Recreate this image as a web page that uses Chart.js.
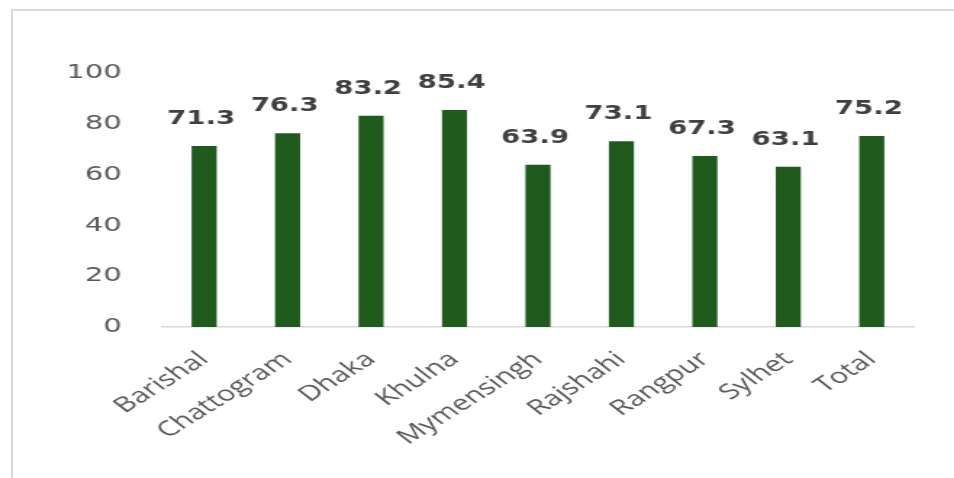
<!DOCTYPE html>
<html>
<head>
<meta charset="utf-8">
<script src="https://cdn.jsdelivr.net/npm/chart.js@4/dist/chart.umd.min.js"></script>
<style>
  html, body { margin: 0; padding: 0; background: #ffffff; overflow: hidden; }
  #frame {
    position: absolute; left: 11px; top: 9px; width: 960px; height: 480px;
    border-top: 2px solid #dadada; border-left: 2px solid #dadada;
  }
  /* the chart is laid out narrow and widened horizontally */
  #wrap {
    position: absolute; left: 0; top: 0; width: 658px; height: 478px;
    transform: scaleX(1.45); transform-origin: 0 0;
  }
</style>
</head>
<body>
<div id="frame"></div>
<div id="wrap"><canvas id="c" width="658" height="478"></canvas></div>
<script>
const divisions = ['Barishal', 'Chattogram', 'Dhaka', 'Khulna', 'Mymensingh', 'Rajshahi', 'Rangpur', 'Sylhet', 'Total'];
const rates = [71.3, 76.3, 83.2, 85.4, 63.9, 73.1, 67.3, 63.1, 75.2];
const yTicks = [0, 20, 40, 60, 80, 100];

const barColor = '#1f5b1d';

// value labels above each bar
const valueLabels = {
  id: 'valueLabels',
  afterDatasetsDraw(chart) {
    const ctx = chart.ctx;
    const meta = chart.getDatasetMeta(0);
    ctx.save();
    ctx.font = 'bold 19px "DejaVu Sans"';
    ctx.fillStyle = '#404040';
    ctx.textAlign = 'center';
    ctx.textBaseline = 'alphabetic';
    meta.data.forEach((bar, i) => {
      ctx.fillText(rates[i].toFixed(1), bar.x - 2, bar.y - 22);
    });
    ctx.restore();
  }
};

new Chart(document.getElementById('c'), {
  type: 'bar',
  data: {
    labels: divisions,
    datasets: [{
      data: rates,
      backgroundColor: barColor,
      borderWidth: 0,
      barPercentage: 0.3,
      categoryPercentage: 1.0
    }]
  },
  options: {
    responsive: false,
    animation: false,
    layout: { padding: { left: 0, right: 28, top: 73, bottom: 0 } },
    plugins: {
      legend: { display: false },
      tooltip: { enabled: false }
    },
    scales: {
      x: {
        grid: { display: true, drawOnChartArea: false, drawTicks: false },
        border: { display: true, color: '#d9d9d9', width: 1.5 },
        ticks: {
          minRotation: 42,
          maxRotation: 42,
          padding: 20,
          color: '#595959',
          font: { family: '"Open Sans"', size: 21 }
        },
        afterFit(scale) { scale.height = 151; }
      },
      y: {
        min: 0,
        max: 100,
        grid: { display: false },
        border: { display: false },
        afterBuildTicks(scale) { scale.ticks = yTicks.map(v => ({ value: v })); },
        ticks: {
          padding: 20,
          color: '#595959',
          font: { family: '"DejaVu Sans"', size: 20 }
        },
        afterFit(scale) { scale.width = 112; }
      }
    }
  },
  plugins: [valueLabels]
});
</script>
</body>
</html>
